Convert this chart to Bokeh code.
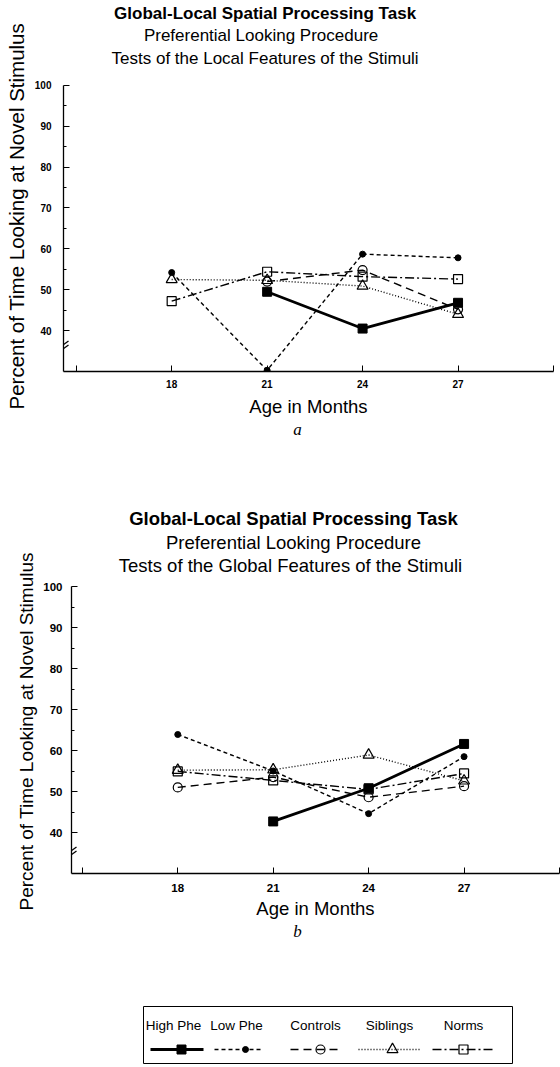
import numpy as np
from bokeh.plotting import figure
from bokeh.models import Range1d, FixedTicker, Arrow, Title
from bokeh.embed import file_html
from bokeh.resources import INLINE
from bokeh.core.properties import value

nan = np.nan
FONT = "Liberation Sans"

# ---- data -------------------------------------------------------------
ages = [18, 21, 24, 27]
age_ticks = [18, 21, 24, 27]
age_end_ticks = [15, 30]
pct_ticks = [40, 50, 60, 70, 80, 90, 100]
pct_minor = [45, 55, 65, 75, 85, 95]

groups = ["High Phe", "Low Phe", "Controls", "Siblings", "Norms"]

# (a) tests of the local features
high_phe_local = [nan, 49.5, 40.5, 46.8]
low_phe_local = [54.2, 30.3, 58.7, 57.8]
controls_local = [nan, 52.0, 54.8, 45.2]
siblings_local = [52.5, 52.3, 50.9, 44.0]
norms_local = [47.2, 54.4, 53.2, 52.6]

# (b) tests of the global features
high_phe_global = [nan, 42.7, 50.8, 61.6]
low_phe_global = [63.9, 55.0, 44.6, 58.5]
controls_global = [51.0, 53.5, 48.6, 51.3]
siblings_global = [55.2, 55.3, 58.9, 52.6]
norms_global = [54.9, 52.7, 50.5, 54.4]

# ---- styles -----------------------------------------------------------
STYLE = {
    "High Phe": dict(width=2.8, dash="solid", marker="square", size=9, fill="black"),
    "Low Phe": dict(width=1.4, dash="4 3", marker="circle", size=6, fill="black"),
    "Controls": dict(width=1.4, dash="8 5", marker="circle", size=9, fill=None),
    "Siblings": dict(width=1.4, dash="1 2", marker="triangle", size=11, fill=None),
    "Norms": dict(width=1.4, dash="9 3 2 3", marker="square", size=9, fill=None),
}
DRAW_ORDER = ["Norms", "Siblings", "Controls", "Low Phe", "High Phe"]
PX_PER_PCT = 4.1


def draw_line(p, xs, ys, name):
    st = STYLE[name]
    p.line(xs, ys, line_color="black", line_width=st["width"], line_dash=st["dash"])


def draw_marks(p, xs, ys, name):
    st = STYLE[name]
    if st["fill"] is None:
        p.scatter(xs, ys, marker=st["marker"], size=st["size"], line_color="black",
                  line_width=1.2, fill_alpha=0)
    else:
        p.scatter(xs, ys, marker=st["marker"], size=st["size"], line_color="black",
                  line_width=1, fill_color=st["fill"])


def chart(series, page_top, height, fl, fr, axis_y, top100_y, x_start,
          titles, title_fs, title_x, title_y, letter_above, tick_fs, tick_sx, tick_sy,
          xlab_fs, xlab_so, ylab_fs, ylab_offset, ylab_so, break_value):
    y_end = 100 + (top100_y - page_top) / PX_PER_PCT
    frame_bottom = axis_y - page_top
    p = figure(width=560, height=height, x_range=Range1d(x_start, 30), y_range=Range1d(30, y_end),
               output_backend="svg", toolbar_location=None,
               min_border_left=fl, min_border_right=560 - fr,
               min_border_top=0, min_border_bottom=height - frame_bottom,
               background_fill_color="white", border_fill_color="white")
    p.outline_line_color = None
    p.xgrid.visible = False
    p.ygrid.visible = False

    kx = (30 - x_start) / (fr - fl)

    def dx(x_abs):
        return x_start + (x_abs - fl) * kx

    def dy(y_abs):
        return y_end - (y_abs - page_top) / PX_PER_PCT

    for name in DRAW_ORDER:
        draw_line(p, ages, series[name], name)
    for name in DRAW_ORDER:
        draw_marks(p, ages, series[name], name)

    for ax in (p.xaxis[0], p.yaxis[0]):
        ax.axis_line_color = "black"
        ax.axis_line_width = 1.3
        ax.major_tick_line_color = "black"
        ax.minor_tick_line_color = "black"
        ax.major_tick_out = 0
        ax.minor_tick_out = 0
        ax.major_label_text_font = FONT
        ax.major_label_text_font_style = "bold"
        ax.major_label_text_font_size = tick_fs
        ax.major_label_text_color = "black"
        ax.axis_label_text_font = FONT
        ax.axis_label_text_font_style = "normal"
        ax.axis_label_text_font_size = xlab_fs
        ax.axis_label_text_color = "black"

    p.xaxis.ticker = FixedTicker(ticks=age_ticks, minor_ticks=age_end_ticks)
    p.xaxis.major_tick_in = 6
    p.xaxis.minor_tick_in = 6
    p.xaxis.major_label_standoff = tick_sx
    p.xaxis.axis_label = "Age in Months"
    p.xaxis.axis_label_standoff = xlab_so

    p.yaxis.ticker = FixedTicker(ticks=pct_ticks, minor_ticks=pct_minor)
    p.yaxis.bounds = (30, 100)
    p.yaxis.major_tick_in = 6
    p.yaxis.minor_tick_in = 3
    p.yaxis.major_label_standoff = tick_sy

    # vertical axis title, placed along the percent axis
    p.add_layout(Title(text="Percent of Time Looking at Novel Stimulus", align="left",
                       offset=ylab_offset, vertical_align="middle", standoff=ylab_so,
                       text_font=FONT, text_font_size=ylab_fs, text_font_style="normal",
                       text_color="black"), "left")

    # headings above the plotting area
    for text, x_abs, y_abs, bold in zip(titles, title_x, title_y, [True, False, False]):
        p.text(x=[dx(x_abs)], y=[dy(y_abs)], text=[text], text_align="center",
               text_baseline="middle", text_font=value(FONT), text_font_size=title_fs,
               text_font_style="bold" if bold else "normal", text_color="black")

    if letter_above is not None:
        lt, lx, ly = letter_above
        p.text(x=[dx(lx)], y=[dy(ly)], text=[lt], text_align="center", text_baseline="middle",
               text_font=value("Liberation Serif"), text_font_size="17px",
               text_font_style="italic", text_color="black")

    # axis break marks on the percent axis
    bpx = (break_value - 30) * PX_PER_PCT
    for d in (-2, 2):
        p.add_layout(Arrow(end=None, x_start=-6, y_start=bpx + d - 4, x_end=5, y_end=bpx + d + 4,
                           start_units="screen", end_units="screen",
                           line_color="black", line_width=1.2))
    return p


local = {"High Phe": high_phe_local, "Low Phe": low_phe_local, "Controls": controls_local,
         "Siblings": siblings_local, "Norms": norms_local}
glob = {"High Phe": high_phe_global, "Low Phe": low_phe_global, "Controls": controls_global,
        "Siblings": siblings_global, "Norms": norms_global}

top = chart(local, 0, 419, 62, 553, 372, 85, 14.6,
            ["Global-Local Spatial Processing Task", "Preferential Looking Procedure",
             "Tests of the Local Features of the Stimuli"],
            "17px", [264, 260, 264], [13, 35, 58], None,
            "10px", 8, 12, "18.5px", 5, "20.5px", -38, 6, 36)

bottom = chart(glob, 419, 504, 71, 559, 873, 586, 14.66,
               ["Global-Local Spatial Processing Task", "Preferential Looking Procedure",
                "Tests of the Global Features of the Stimuli"],
               "18.5px", [293, 293, 290], [518, 542, 565], ("a", 297, 429),
               "11.5px", 10, 9, "18.5px", 3, "19px", -37, 6, 35)

# ---- key ----------------------------------------------------------------
LEG_TOP = 923
LEG_H = 1067 - LEG_TOP
legend_label_x = [173, 236, 315, 389, 463]
legend_mark_x = [181, 245, 320, 392, 463]
legend_line_x0 = [150, 214, 290, 358, 432]
legend_line_x1 = [203, 262, 342, 420, 495]

leg = figure(width=560, height=LEG_H, x_range=Range1d(0, 560), y_range=Range1d(1067, LEG_TOP),
             x_axis_type=None, y_axis_type=None, output_backend="svg", toolbar_location=None,
             min_border=0, background_fill_color="white", border_fill_color="white")
leg.outline_line_color = None
leg.xgrid.visible = False
leg.ygrid.visible = False
leg.text(x=[297], y=[931], text=["b"], text_align="center", text_baseline="middle",
         text_font=value("Liberation Serif"), text_font_size="17px", text_font_style="italic",
         text_color="black")
leg.quad(left=[143], right=[512], top=[1006], bottom=[1063], fill_alpha=0,
         line_color="black", line_width=1)
leg.text(x=legend_label_x, y=[1025] * len(groups), text=groups, text_align="center",
         text_baseline="middle", text_font=value(FONT), text_font_size="13.5px",
         text_color="black")
for name, x0, x1, xm in zip(groups, legend_line_x0, legend_line_x1, legend_mark_x):
    draw_line(leg, [x0, x1], [1049, 1049], name)
    draw_marks(leg, [xm], [1049], name)

open("out.html", "w").write(file_html([top, bottom, leg], INLINE))
